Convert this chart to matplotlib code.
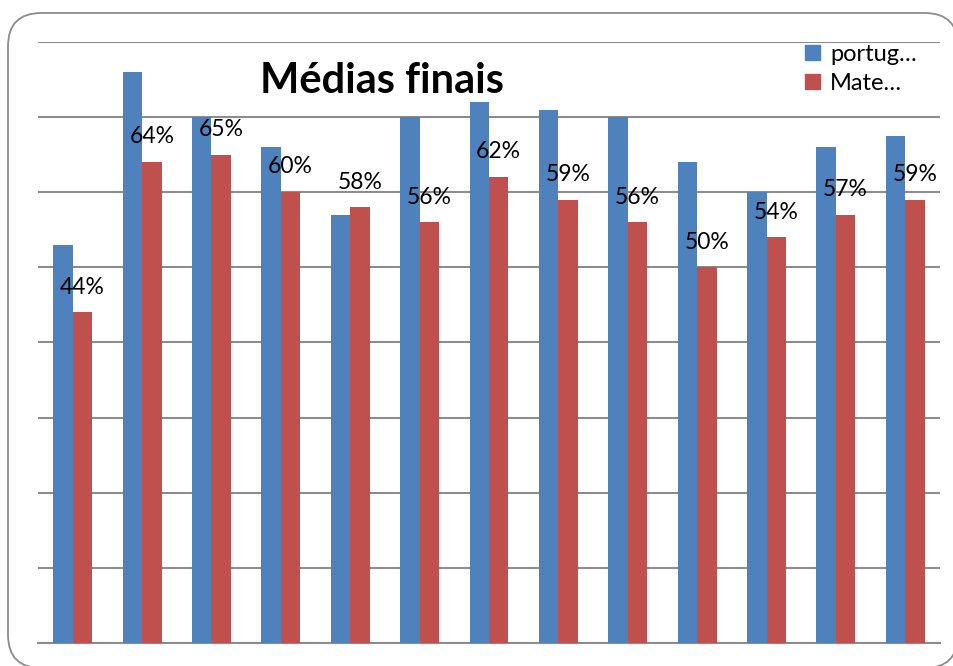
import matplotlib

matplotlib.use("Agg")

import matplotlib.pyplot as plt
import numpy as np
from matplotlib.patches import FancyBboxPatch, Patch

# values (percent)
groups = list(range(1, 14))
portugues = [53, 76, 70, 66, 57, 70, 72, 71, 70, 64, 60, 66, 67.5]
matematica = [44, 64, 65, 60, 58, 56, 62, 59, 56, 50, 54, 57, 59]
series_names = ["portug…", "Mate…"]

BLUE = "#4F81BD"
RED = "#C0504D"
GRID = "#8C8C8C"
FONT = ["Lato", "DejaVu Sans"]

W, H = 954, 666
fig = plt.figure(figsize=(W / 100, H / 100), dpi=100, facecolor="white")

# rounded chart border, partly cut off at right/bottom like the screenshot
border = FancyBboxPatch(
    (8 / W, 1 - 668 / H), 950 / W, 655 / H,
    boxstyle="round,pad=0,rounding_size=0.035",
    transform=fig.transFigure, facecolor="white", edgecolor=GRID, linewidth=1.3,
    mutation_aspect=W / H, zorder=-5,
)
fig.patches.append(border)

ax = fig.add_axes([38 / W, 1 - 643 / H, (940 - 38) / W, (643 - 42) / H])
ax.set_facecolor("none")

x = np.arange(len(groups))
width = 0.28
ax.bar(x - width / 2, portugues, width, color=BLUE, zorder=3, label=series_names[0])
bars_m = ax.bar(x + width / 2, matematica, width, color=RED, zorder=3, label=series_names[1])

for rect, val in zip(bars_m, matematica):
    ax.annotate(
        f"{val:.0f}%",
        (rect.get_x() + rect.get_width() / 2, rect.get_height()),
        xytext=(0, 13.5), textcoords="offset points",
        ha="center", va="baseline", fontsize=16.5, family=FONT, color="black", zorder=4,
    )

ax.set_xlim(-0.5, len(groups) - 0.5)
ax.set_ylim(0, 80)
ax.set_yticks(np.arange(0, 81, 10))
ax.yaxis.grid(True, color=GRID, linewidth=1.5, zorder=0)
ax.tick_params(left=False, bottom=False, labelleft=False, labelbottom=False)
for name, spine in ax.spines.items():
    spine.set_visible(name == "bottom")
ax.spines["bottom"].set_color(GRID)
ax.spines["bottom"].set_linewidth(1.5)

fig.text(382 / W, 1 - 93 / H, "Médias finais", ha="center", va="baseline",
         fontsize=30, fontweight="bold", family=FONT)

handles = [Patch(color=BLUE), Patch(color=RED)]
leg = fig.legend(
    handles, series_names, loc="upper left", bbox_to_anchor=(805 / W, 1 - 44 / H),
    frameon=False, handlelength=0.62, handleheight=0.62,
    handletextpad=0.45, labelspacing=0.33, borderaxespad=0, borderpad=0,
    prop={"family": FONT, "size": 17},
)

fig.savefig("out.png", dpi=100, facecolor="white")
